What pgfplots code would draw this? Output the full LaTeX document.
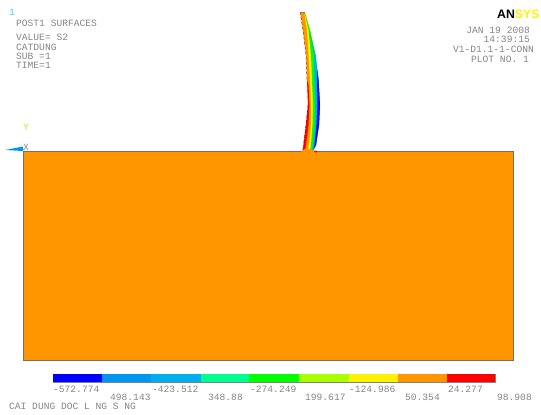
\documentclass[border=0pt]{standalone}
\usepackage{pgfplots}
\pgfplotsset{compat=1.18}
\usepackage{fontspec}
\setmainfont{Liberation Mono}
\definecolor{org}{HTML}{FF9600}
\definecolor{txt}{HTML}{858585}
\newcommand{\band}[2]{\addplot[draw=none,fill=#1,forget plot] coordinates {#2} --cycle;}
\begin{document}
\begin{tikzpicture}
\useasboundingbox (0,0) rectangle (541pt,415pt);
\begin{axis}[at={(0,0)},anchor=south west,scale only axis,width=541pt,height=415pt,xmin=0,xmax=541,ymin=0,ymax=415,y dir=reverse,hide axis,clip=true]
\addplot[draw={rgb,255:red,125;green,110;blue,85},line width=0.9pt,fill=org] coordinates {(23,151)(513,151)(513,360)(23,360)} --cycle;
% colour bar
\band{blue}{(53,374)(102,374)(102,382)(53,382)}
\band{{rgb,255:red,0;green,150;blue,240}}{(102,374)(151,374)(151,382)(102,382)}
\band{cyan}{(151,374)(200.5,374)(200.5,382)(151,382)}
\band{{rgb,255:red,0;green,255;blue,145}}{(200.5,374)(249,374)(249,382)(200.5,382)}
\band{green}{(249,374)(299,374)(299,382)(249,382)}
\band{{rgb,255:red,170;green,255;blue,0}}{(299,374)(348.5,374)(348.5,382)(299,382)}
\band{yellow}{(348.5,374)(397.5,374)(397.5,382)(348.5,382)}
\band{org}{(397.5,374)(446.5,374)(446.5,382)(397.5,382)}
\band{red}{(446.5,374)(495.5,374)(495.5,382)(446.5,382)}
\addplot[draw=gray,line width=0.6pt,forget plot] coordinates {(53,382.5)(495.5,382.5)(495.5,374)};
% blade
\band{org}{(300,12)(305,12)(310,30)(315.5,55)(318.5,80)(320,105)(319,125)(316,145)(313,151)(302.5,151)(303.5,145)(306,125)(308,105)(307,80)(306,55)(303,30)}
\band{yellow}{(304.5,14)(310,30)(315.5,55)(318.5,80)(320,105)(319,125)(316,145)(313,151)(308,151)(309,145)(311,125)(311,105)(310,80)(308.5,55)(307,30)}
\band{green}{(305,14)(310,30)(315.5,55)(318.5,80)(320,105)(319,125)(316,145)(313,151)(310,151)(311,145)(312.5,125)(313,105)(312,80)(311,55)(308.5,30)}
\band{cyan}{(309,30)(315.5,55)(318.5,80)(320,105)(319,125)(316,145)(313,151)(312,151)(313,145)(315,125)(315.5,105)(314.5,80)(314,55)}
\band{blue}{(317.5,70)(318.5,80)(320,105)(319,125)(316,145)(313.5,149)(314.5,145)(316.5,125)(317.5,105)(317,80)}
\band{red}{(307,80)(308,105)(306,125)(303.5,145)(302.5,151)(305,151)(306,145)(308.5,125)(309.5,105)(308.5,85)}
\band{org}{(301,152)(304.5,149)(311,149)(316,152)}
\band{red}{(314.5,150.5)(317,151)(316.5,152.5)(314,152)}
\addplot[draw=black!50!orange,densely dashed,line width=0.5pt,forget plot] coordinates {(300,12)(303,30)(306,55)(307,80)};
\addplot[draw=black!50!red,densely dashed,line width=0.4pt,forget plot] coordinates {(308,105)(306,125)(303.5,145)};
\addplot[draw=gray,line width=1pt,forget plot] coordinates {(300,12)(305,12)};
% triad
\band{{rgb,255:red,0;green,150;blue,240}}{(5,150)(23,146.5)(23,151)}
\end{axis}
\begin{scope}[x=1pt,y=-1pt,shift={(0,415pt)},every node/.style={font=\fontsize{9.6}{10}\selectfont,text=txt,inner sep=0pt,anchor=west}]
\node at (9,12) {\textcolor{cyan!70}{1}};
\node at (16,23) {POST1 SURFACES};
\node at (16,37) {VALUE= S2};
\node at (16,47) {CATDUNG};
\node at (16,56) {SUB =1};
\node at (16,65) {TIME=1};
\node at (23,127) {\textcolor{yellow!80!green}{Y}};
\node at (23,147) {X};
\node[anchor=east] at (530,30) {JAN 19 2008};
\node[anchor=east] at (530,39) {14:39:15};
\node[anchor=east] at (534,49) {V1-D1.1-1-CONN};
\node[anchor=east] at (529,59) {PLOT NO. 1};
\node[anchor=west,font=\fontsize{12.3}{13}\fontspec{Liberation Sans}\bfseries,text=black] at (497,14) {AN\textcolor{yellow}{SYS}};
\node at (53,389) {-572.774};
\node at (152,389) {-423.512};
\node at (250,389) {-274.249};
\node at (349,389) {-124.986};
\node at (448,389) {24.277};
\node at (110,397) {498.143};
\node at (208,397) {348.88};
\node at (305,397) {199.617};
\node at (405,397) {50.354};
\node at (497,397) {98.908};
\node at (9,406) {CAI DUNG DOC L NG S NG};
\end{scope}
\end{tikzpicture}
\end{document}
